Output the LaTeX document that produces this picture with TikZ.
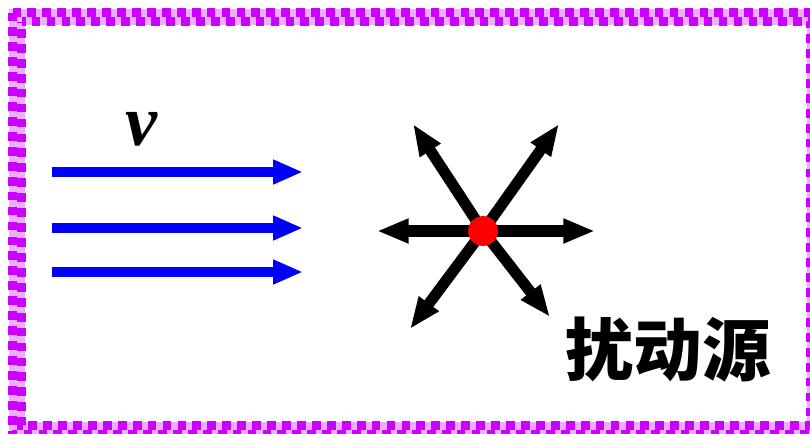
\documentclass[tikz,border=0pt]{standalone}
\usepackage{fontspec}
\setmainfont{Liberation Serif}
\newfontfamily\cjk{Noto Sans CJK SC}
\usepackage{tikz}
\usetikzlibrary{arrows.meta}
\definecolor{framev}{RGB}{204,0,255}
\definecolor{framel}{RGB}{236,175,255}
\def\flowstart{52}
\def\flowend{303}

\begin{document}
\begin{tikzpicture}[x=0.02cm, y=-0.02cm,
		flow/.style={draw=blue, line width=6.2pt, -{Triangle[length=17pt,width=13pt]}},
		ray/.style={draw=black, line width=6.3pt, -{Triangle[length=18pt,width=13pt]}},
		source/.style={circle, fill=red, inner sep=0pt, minimum size=17pt}]
	\useasboundingbox (0,0) rectangle (810,433);
	% frame
	\draw[framel, line width=9.5pt] (17,17) rectangle (815,430);
	\draw[framev, line width=4.6pt, dash pattern=on 5pt off 3.5pt] (12.5,12.5) rectangle (819.5,434.5);
	\draw[framev, line width=4.6pt, dash pattern=on 5pt off 3.5pt, dash phase=4.25pt] (21.5,21.5) rectangle (810.5,425.5);
	% incoming flow
	\foreach \y [count=\i] in {172,228,272} {
		\coordinate (in\i) at (\flowstart,\y);
		\coordinate (out\i) at (\flowend,\y);
		\draw[flow] (in\i) -- (out\i);
	}
	\node[inner sep=0pt] (vel) at (141,129) {\fontsize{41}{41}\selectfont\bfseries\itshape v};
	% disturbance source
	\coordinate (src) at (483,231);
	\foreach \x/\y [count=\i] in {595/231, 559/124, 413/124, 377/231, 410/329, 550/317} {
		\coordinate (tip\i) at (\x,\y);
		\draw[ray] (src) -- (tip\i);
	}
	\node[source] (dot) at (src) {};
	\node[inner sep=0pt] (lbl) at (668,350) {\cjk\bfseries\fontsize{39}{39}\selectfont 扰动源};
\end{tikzpicture}
\end{document}
